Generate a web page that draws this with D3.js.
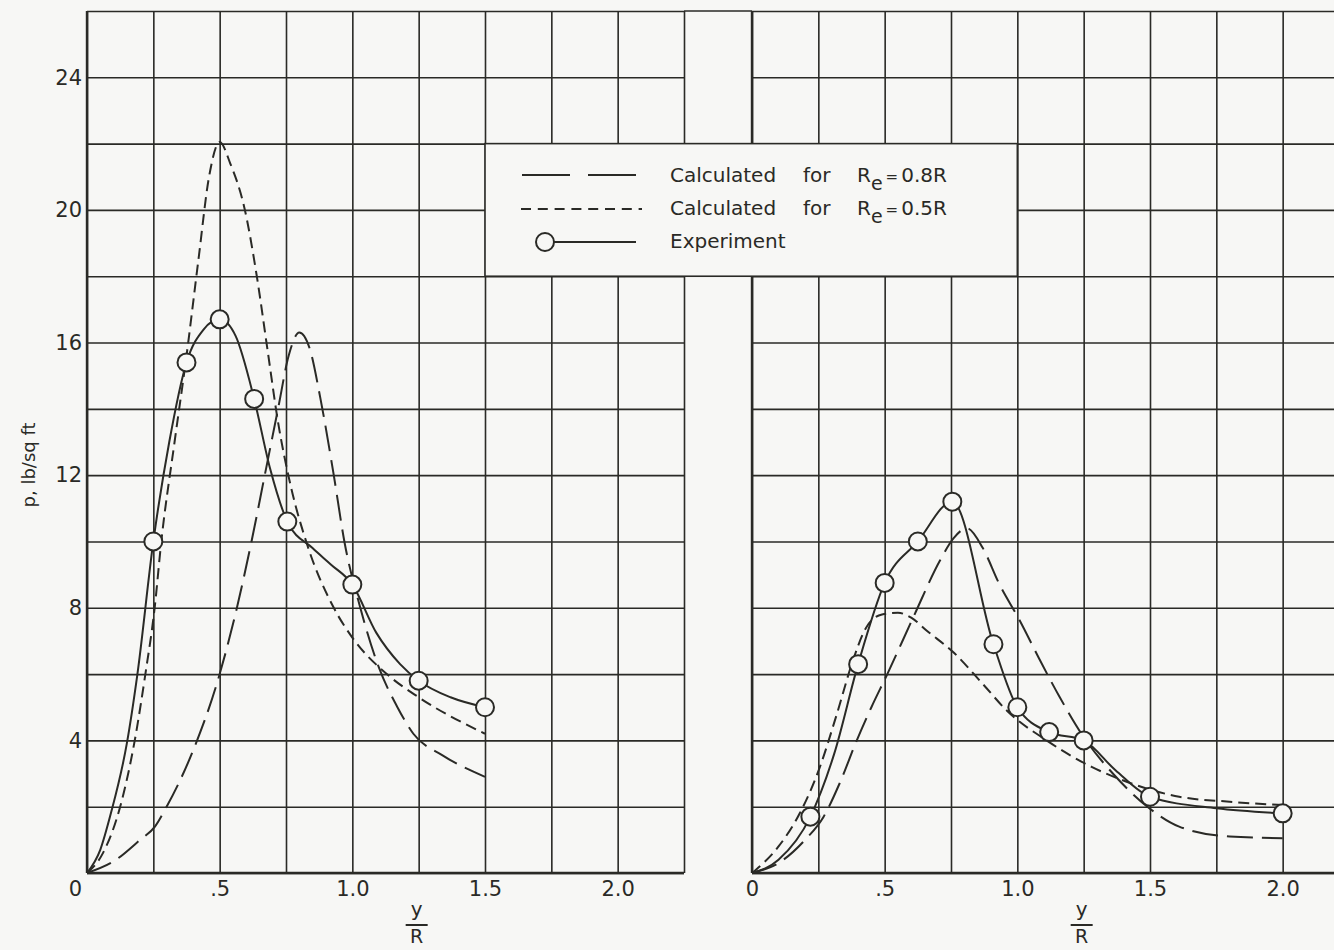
<!DOCTYPE html>
<html>
<head>
<meta charset="utf-8">
<script src="https://cdn.jsdelivr.net/npm/d3@7"></script>
<style>
  body { margin: 0; background: #f7f7f5; }
  svg { display: block; font-family: "DejaVu Sans", sans-serif; }
</style>
</head>
<body>
<svg id="chart" width="1334" height="950"></svg>
<script>
// tick labels
const xTicks = [0, 0.5, 1.0, 1.5, 2.0];
const xTickLabels = ["0", ".5", "1.0", "1.5", "2.0"];
const yTicks = [4, 8, 12, 16, 20, 24];

// left panel, experiment (circles + faired curve)
const leftExpPtX = [0.25, 0.375, 0.5, 0.63, 0.755, 1.0, 1.25, 1.5];
const leftExpPtY = [10.0, 15.4, 16.7, 14.3, 10.6, 8.7, 5.8, 5.0];
const leftExpX = [0, 0.05, 0.09, 0.15, 0.19, 0.25, 0.31, 0.375, 0.44, 0.5, 0.56, 0.63, 0.69, 0.755, 0.85, 0.92, 1.0, 1.09, 1.18, 1.25, 1.37, 1.5];
const leftExpY = [0, 0.7, 1.8, 3.9, 6.0, 10.0, 13.0, 15.4, 16.4, 16.7, 16.2, 14.3, 12.2, 10.6, 9.8, 9.3, 8.7, 7.25, 6.3, 5.8, 5.3, 5.0];

// left panel, calculated Re = 0.8R
const left08X = [0, 0.1, 0.2, 0.256, 0.3, 0.395, 0.5, 0.565, 0.62, 0.67, 0.72, 0.76, 0.8, 0.84, 0.88, 0.93, 0.97, 1.03, 1.1, 1.17, 1.23, 1.34, 1.5];
const left08Y = [0, 0.35, 1.0, 1.4, 2.0, 3.6, 6.0, 8.0, 10.0, 12.0, 14.0, 15.6, 16.3, 15.8, 14.3, 12.0, 10.0, 8.0, 6.2, 5.0, 4.2, 3.55, 2.9];

// left panel, calculated Re = 0.5R
const left05X = [0, 0.06, 0.125, 0.18, 0.22, 0.255, 0.28, 0.33, 0.375, 0.42, 0.46, 0.5, 0.54, 0.595, 0.64, 0.68, 0.72, 0.77, 0.83, 0.93, 1.0, 1.13, 1.25, 1.5];
const left05Y = [0, 0.6, 2.0, 4.0, 6.0, 8.0, 10.0, 13.0, 15.6, 18.5, 21.0, 22.05, 21.4, 20.0, 18.0, 15.8, 13.6, 11.6, 9.9, 8.0, 7.1, 6.0, 5.3, 4.2];

// right panel, experiment
const rightExpPtX = [0.22, 0.40, 0.5, 0.625, 0.755, 0.91, 1.0, 1.12, 1.25, 1.5, 2.0];
const rightExpPtY = [1.7, 6.3, 8.75, 10.0, 11.2, 6.9, 5.0, 4.25, 4.0, 2.3, 1.8];
const rightExpX = [0, 0.1, 0.22, 0.31, 0.40, 0.5, 0.625, 0.755, 0.91, 1.0, 1.12, 1.25, 1.37, 1.5, 1.75, 2.0];
const rightExpY = [0, 0.4, 1.7, 3.6, 6.3, 8.75, 10.0, 11.2, 6.9, 5.0, 4.25, 4.0, 3.1, 2.3, 1.95, 1.8];

// right panel, calculated Re = 0.8R
const right08X = [0, 0.1, 0.2, 0.27, 0.33, 0.395, 0.45, 0.51, 0.61, 0.71, 0.76, 0.81, 0.87, 0.93, 1.01, 1.08, 1.16, 1.25, 1.36, 1.49, 1.61, 1.8, 2.0];
const right08Y = [0, 0.3, 1.0, 1.7, 2.7, 4.0, 5.0, 6.0, 7.75, 9.45, 10.1, 10.4, 9.8, 8.75, 7.6, 6.5, 5.3, 4.1, 3.0, 2.0, 1.4, 1.1, 1.05];

// right panel, calculated Re = 0.5R
const right05X = [0, 0.1, 0.18, 0.256, 0.32, 0.38, 0.43, 0.49, 0.55, 0.6, 0.66, 0.76, 0.87, 0.96, 1.11, 1.28, 1.43, 1.61, 1.8, 2.0];
const right05Y = [0, 0.8, 1.8, 3.2, 4.8, 6.4, 7.4, 7.8, 7.85, 7.7, 7.3, 6.65, 5.7, 4.9, 4.0, 3.2, 2.7, 2.3, 2.15, 2.05];

const ink = "#2a2a26";
const bg = "#f7f7f5";
const longDash = "26,9";
const shortDash = "11,6";

const svg = d3.select("#chart");

const y = d3.scaleLinear().domain([0, 26]).range([873, 11]);
const xLeft = d3.scaleLinear().domain([0, 2.25]).range([87, 684]);
const xRight = d3.scaleLinear().domain([0, 2.25]).range([752, 1349]);

const gridX = d3.range(0, 2.26, 0.25);
const gridY = d3.range(0, 27, 2);

const zip = (xs, ys) => xs.map((v, i) => [v, ys[i]]);

function drawGrid(x) {
  const g = svg.append("g");
  g.append("g")
    .attr("transform", `translate(0,${y(0)})`)
    .call(d3.axisBottom(x).tickValues(gridX).tickSize(-(y(0) - y(26))).tickFormat(""))
    .call(a => a.select(".domain").remove())
    .selectAll("line").attr("stroke", ink).attr("stroke-width", 1.6);
  g.append("g")
    .attr("transform", `translate(${x(0)},0)`)
    .call(d3.axisLeft(y).tickValues(gridY).tickSize(-(x(2.25) - x(0))).tickFormat(""))
    .call(a => a.select(".domain").remove())
    .selectAll("line").attr("stroke", ink).attr("stroke-width", 1.6);
  // heavier left edge and baseline
  g.append("line")
    .attr("x1", x(0)).attr("x2", x(0)).attr("y1", y(0)).attr("y2", y(26))
    .attr("stroke", ink).attr("stroke-width", 2.4);
  g.append("line")
    .attr("x1", x(0)).attr("x2", x(2.25)).attr("y1", y(0)).attr("y2", y(0))
    .attr("stroke", ink).attr("stroke-width", 2.4);
}

function drawLabels(x, shiftZero) {
  const ax = svg.append("g")
    .attr("transform", `translate(0,${y(0)})`)
    .call(d3.axisBottom(x).tickValues(xTicks).tickSize(0).tickPadding(8)
      .tickFormat((d, i) => xTickLabels[i]));
  ax.select(".domain").remove();
  ax.selectAll("text")
    .attr("font-family", "DejaVu Sans, sans-serif")
    .attr("font-size", 21).attr("fill", ink)
    .attr("dx", d => (shiftZero && d === 0) ? -12 : 0);

  // y / R fraction
  const fx = x(1.25) - 2;
  svg.append("text").attr("x", fx).attr("y", 916).attr("text-anchor", "middle")
    .attr("font-size", 20).attr("fill", ink).text("y");
  svg.append("line").attr("x1", fx - 11).attr("x2", fx + 11).attr("y1", 925).attr("y2", 925)
    .attr("stroke", ink).attr("stroke-width", 2);
  svg.append("text").attr("x", fx).attr("y", 943).attr("text-anchor", "middle")
    .attr("font-size", 19).attr("fill", ink).text("R");
}

drawGrid(xLeft);
drawGrid(xRight);

// top edge runs across the gap
svg.append("line")
  .attr("x1", xLeft(2.25)).attr("x2", xRight(0)).attr("y1", y(26)).attr("y2", y(26))
  .attr("stroke", ink).attr("stroke-width", 1.6);

// y axis labels
const ay = svg.append("g")
  .attr("transform", `translate(${xLeft(0)},0)`)
  .call(d3.axisLeft(y).tickValues(yTicks).tickSize(0).tickPadding(5));
ay.select(".domain").remove();
ay.selectAll("text")
  .attr("font-family", "DejaVu Sans, sans-serif")
  .attr("font-size", 21).attr("fill", ink);

svg.append("text")
  .attr("transform", "translate(30,465) rotate(-90)")
  .attr("text-anchor", "middle")
  .attr("dominant-baseline", "middle")
  .attr("font-size", 18).attr("fill", ink)
  .text("p, lb/sq ft");

drawLabels(xLeft, true);
drawLabels(xRight, false);

// legend box (blanks out the grid under it)
svg.append("rect")
  .attr("x", xLeft(1.5)).attr("y", y(22))
  .attr("width", xRight(1.0) - xLeft(1.5)).attr("height", y(18) - y(22))
  .attr("fill", bg).attr("stroke", ink).attr("stroke-width", 1.6);

const lg = svg.append("g").attr("fill", ink).attr("font-size", 20);
lg.append("line").attr("x1", 522).attr("x2", 638).attr("y1", 175).attr("y2", 175)
  .attr("stroke", ink).attr("stroke-width", 2).attr("stroke-dasharray", "48,18");
lg.append("line").attr("x1", 521).attr("x2", 642).attr("y1", 209).attr("y2", 209)
  .attr("stroke", ink).attr("stroke-width", 2).attr("stroke-dasharray", "10,6.8");
lg.append("line").attr("x1", 545).attr("x2", 636).attr("y1", 242).attr("y2", 242)
  .attr("stroke", ink).attr("stroke-width", 2);
lg.append("circle").attr("cx", 545).attr("cy", 242).attr("r", 9)
  .attr("fill", bg).attr("stroke", ink).attr("stroke-width", 2);

const legendRows = [
  { base: 182, re: "0.8R" },
  { base: 215, re: "0.5R" }
];
legendRows.forEach(r => {
  lg.append("text").attr("x", 670).attr("y", r.base).text("Calculated");
  lg.append("text").attr("x", 803).attr("y", r.base).text("for");
  const t = lg.append("text").attr("x", 857).attr("y", r.base);
  t.append("tspan").text("R");
  t.append("tspan").attr("dy", 8).attr("font-size", 19).text("e");
  t.append("tspan").attr("dy", -8).attr("dx", 3).attr("font-size", 15).text("=");
  t.append("tspan").attr("dx", 3).text(r.re);
});
lg.append("text").attr("x", 670).attr("y", 248).text("Experiment");

// curves
function drawSeries(x, xs, ys, dash) {
  const line = d3.line().x(d => x(d[0])).y(d => y(d[1])).curve(d3.curveMonotoneX);
  svg.append("path")
    .attr("d", line(zip(xs, ys)))
    .attr("fill", "none").attr("stroke", ink).attr("stroke-width", 2)
    .attr("stroke-dasharray", dash);
}
function drawPoints(x, xs, ys) {
  svg.append("g").selectAll("circle")
    .data(zip(xs, ys))
    .join("circle")
    .attr("cx", d => x(d[0])).attr("cy", d => y(d[1])).attr("r", 9)
    .attr("fill", bg).attr("stroke", ink).attr("stroke-width", 2);
}

drawSeries(xLeft, left08X, left08Y, longDash);
drawSeries(xLeft, left05X, left05Y, shortDash);
drawSeries(xLeft, leftExpX, leftExpY, null);
drawPoints(xLeft, leftExpPtX, leftExpPtY);

drawSeries(xRight, right08X, right08Y, longDash);
drawSeries(xRight, right05X, right05Y, shortDash);
drawSeries(xRight, rightExpX, rightExpY, null);
drawPoints(xRight, rightExpPtX, rightExpPtY);
</script>
</body>
</html>
